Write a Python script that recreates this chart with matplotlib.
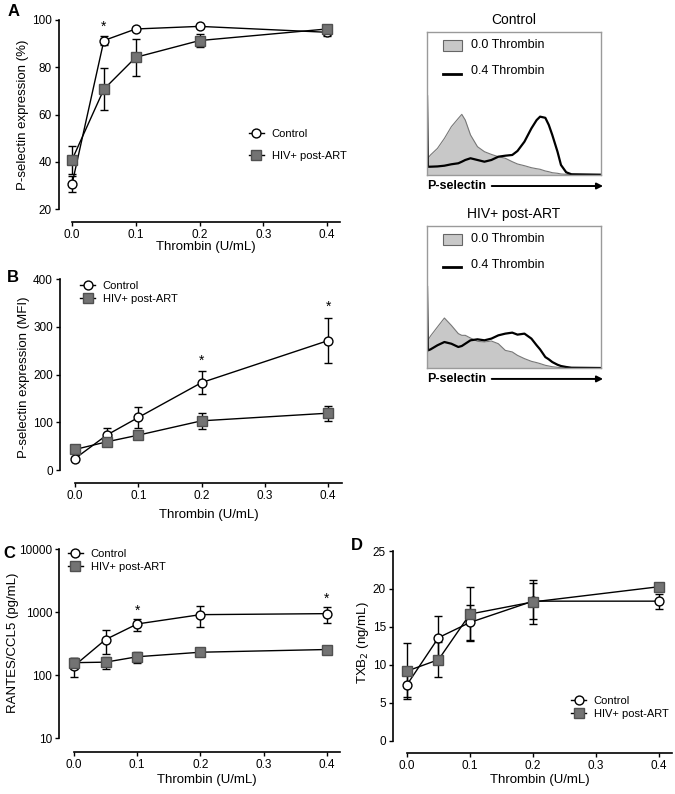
import matplotlib
matplotlib.use('Agg')
import matplotlib.pyplot as plt
import numpy as np

plt.rcParams['font.family'] = ['Liberation Sans', 'DejaVu Sans']

# --- data ---
thrombin = [0.0, 0.05, 0.1, 0.2, 0.4]

# A: P-selectin expression (%)
ctrl_pct = [30.5, 91.3, 96.2, 97.3, 94.8]
ctrl_pct_err = [3.5, 2.0, 0.8, 0.6, 1.5]
hiv_pct = [40.8, 70.7, 84.2, 91.3, 96.2]
hiv_pct_err = [6.0, 8.8, 7.8, 2.7, 1.0]

# B: P-selectin MFI
ctrl_mfi = [24, 73, 110, 183, 271]
ctrl_mfi_err = [4, 16, 21, 24, 47]
hiv_mfi = [43, 59, 73, 103, 119]
hiv_mfi_err = [4, 6, 4, 17, 16]

# C: RANTES/CCL5 (pg/mL)
ctrl_rantes = [139, 366, 646, 908, 942]
ctrl_rantes_err = [47, 150, 139, 340, 265]
hiv_rantes = [157, 160, 195, 230, 254]
hiv_rantes_err = [32, 35, 40, 15, 10]

# D: TXB2 (ng/mL)
ctrl_txb = [7.4, 13.6, 15.6, 18.4, 18.4]
ctrl_txb_err = [1.6, 2.9, 2.3, 2.4, 1.0]
hiv_txb = [9.2, 10.7, 16.7, 18.3, 20.3]
hiv_txb_err = [3.7, 2.3, 3.6, 2.9, 0.3]

# significance stars (x, y)
stars_a = [(0.05, 95.3)]
stars_b = [(0.2, 220), (0.4, 333)]
stars_c = [(0.1, 896), (0.4, 1390)]

# flow histograms (channel 0-100, height in % of box)
hist_x = [0, 0.5, 2, 6, 10, 14, 18, 20, 22, 25, 29, 33, 37, 41, 45, 49, 52,
          56, 60, 63, 65, 68, 70, 72, 75, 77, 80, 83, 100]
ctrl_0 = [11.7, 11.7, 14, 18.6, 25.6, 33.8, 39.6, 42.4, 38.4, 28, 19.8, 16.3,
          14.4, 12.8, 11.7, 9.3, 7.7, 6.5, 5.1, 4.4, 4, 2.8, 2.3, 1.6, 1.2,
          0.7, 0.5, 0, 0]
ctrl_04 = [55, 5.8, 5.8, 6, 6.5, 7.5, 8.2, 9.3, 10.5, 11.7, 10.5, 9.3, 10.5,
           12.8, 13.5, 14, 16.8, 23.3, 32.6, 38.4, 40.8, 40, 35, 28, 16.3, 7,
           1.9, 0.5, 0.2]
hiv_0 = [19.5, 19.5, 22.5, 28.9, 35.2, 30, 24.2, 23, 23, 21.1, 18.8, 18.3,
         19, 17.1, 12.4, 11.3, 8.9, 6.6, 4.7, 3.8, 3.1, 1.9, 1.4, 0.9, 0.5,
         0.2, 0, 0, 0]
hiv_04 = [57, 12.4, 13.1, 16, 18.3, 17.1, 14.8, 15.5, 17.1, 19.5, 20.2, 19.5,
          20.7, 23, 24.2, 24.9, 23.5, 24.2, 20.7, 16, 13.1, 7.7, 6.1, 4.2, 2.3,
          1.4, 0.7, 0.2, 0]

W, H = 675, 794
fig = plt.figure(figsize=(W / 100, H / 100), dpi=100)


def add_ax(l, t, r, b):
    return fig.add_axes([l / W, 1 - b / H, (r - l) / W, (b - t) / H])


sq_face = '#737373'
sq_edge = '#505050'


def line_panel(ax, c, ce, h, he, xlim, ylim, ybounds, yticks, ylabel,
               label_x, label_y, xlabel_y, stars, log=False):
    ax.errorbar(thrombin, c, yerr=ce, fmt='none', ecolor='black', elinewidth=1,
                capsize=3, capthick=1, zorder=2)
    ax.errorbar(thrombin, h, yerr=he, fmt='none', ecolor='black', elinewidth=1,
                capsize=3, capthick=1, zorder=2)
    ax.plot(thrombin, c, '-o', color='black', lw=1, ms=6.4, mfc='white',
            mec='black', mew=1, label='Control', zorder=3)
    ax.plot(thrombin, h, '-s', color='black', lw=1, ms=6.8, mfc=sq_face,
            mec=sq_edge, mew=1, label='HIV+ post-ART', zorder=4)
    if log:
        ax.set_yscale('log')
    ax.set_xlim(*xlim)
    ax.set_ylim(*ylim)
    ax.set_yticks(yticks)
    ax.set_yticklabels([str(t) for t in yticks])
    ax.yaxis.set_minor_locator(matplotlib.ticker.NullLocator())
    ax.set_xticks([0, 0.1, 0.2, 0.3, 0.4])
    ax.set_xticklabels(['0.0', '0.1', '0.2', '0.3', '0.4'])
    for s in ['top', 'right']:
        ax.spines[s].set_visible(False)
    ax.spines['left'].set_bounds(*ybounds)
    ax.spines['bottom'].set_bounds(0, xlim[1])
    for s in ['left', 'bottom']:
        ax.spines[s].set_linewidth(1.2)
    ax.tick_params(length=3, width=1, labelsize=8.5, pad=2, color='black')
    ax.set_ylabel(ylabel, fontsize=9.5)
    ax.yaxis.set_label_coords(label_x, label_y)
    ax.set_xlabel('Thrombin (U/mL)', fontsize=9.5)
    ax.xaxis.set_label_coords(0.5 + (0 - xlim[0]) / (xlim[1] - xlim[0]) / 2, xlabel_y)
    for sx, sy in stars:
        ax.text(sx, sy, '*', ha='center', va='baseline', fontsize=10)


def add_legend(ax, anchor, spacing):
    ax.legend(loc='upper left', bbox_to_anchor=anchor, frameon=False,
              fontsize=8, handlelength=1.35, handletextpad=0.7,
              labelspacing=spacing, borderpad=0, borderaxespad=0)


# A
axA = add_ax(59, 20, 340, 222)
line_panel(axA, ctrl_pct, ctrl_pct_err, hiv_pct, hiv_pct_err,
           (-0.0204, 0.4204), (14.5, 100), (20, 100), [20, 40, 60, 80, 100],
           'P-selectin expression (%)', -0.105, 0.532, -0.094, stars_a)
add_legend(axA, (0.676, 0.462), 1.08)

# B
axB = add_ax(60, 279, 342, 483)
line_panel(axB, ctrl_mfi, ctrl_mfi_err, hiv_mfi, hiv_mfi_err,
           (-0.0237, 0.422), (-27.2, 400), (0, 400), [0, 100, 200, 300, 400],
           'P-selectin expression (MFI)', -0.108, 0.52, -0.127, stars_b)
add_legend(axB, (0.071, 0.99), 0.3)

# C
axC = add_ax(59, 549, 340, 752)
line_panel(axC, ctrl_rantes, ctrl_rantes_err, hiv_rantes, hiv_rantes_err,
           (-0.0237, 0.4206), (6.0, 10000), (10, 10000), [10, 100, 1000, 10000],
           'RANTES/CCL5 (pg/mL)', -0.141, 0.537, -0.108, stars_c, log=True)
add_legend(axC, (0.032, 1.0), 0.3)

# D
axD = add_ax(393, 551, 672, 753)
line_panel(axD, ctrl_txb, ctrl_txb_err, hiv_txb, hiv_txb_err,
           (-0.0222, 0.4206), (-1.58, 25), (0, 25), [0, 5, 10, 15, 20, 25],
           'TXB$_2$ (ng/mL)', -0.078, 0.545, -0.104, [])
add_legend(axD, (0.638, 0.283), 0.3)

# panel letters
for letter, (px, py) in zip('ABCD', [(14, 11), (13, 277), (9, 553), (357, 545)]):
    fig.text(px / W, 1 - py / H, letter, fontsize=12, fontweight='bold',
             ha='center', va='center')


# flow histograms
def hist_panel(ax, title, g, k):
    ax.fill_between(hist_x, 0, g, color='#c8c8c8', lw=0)
    ax.plot(hist_x, g, color='#777777', lw=0.8)
    ax.plot(hist_x, k, color='black', lw=1.6)
    ax.set_xlim(0, 100)
    ax.set_ylim(0, 100)
    ax.set_xticks([])
    ax.set_yticks([])
    for s in ax.spines.values():
        s.set_color('#9a9a9a')
        s.set_linewidth(1)
    ax.text(0.5, 1.085, title, transform=ax.transAxes, ha='center',
            va='center', fontsize=10)
    ax.add_patch(plt.Rectangle((0.092, 0.867), 0.109, 0.077,
                               transform=ax.transAxes, facecolor='#c8c8c8',
                               edgecolor='#666666', lw=0.8))
    ax.text(0.253, 0.906, '0.0 Thrombin', transform=ax.transAxes,
            va='center', fontsize=9)
    ax.plot([0.092, 0.195], [0.708, 0.708], transform=ax.transAxes,
            color='black', lw=2)
    ax.text(0.253, 0.727, '0.4 Thrombin', transform=ax.transAxes,
            va='center', fontsize=9)
    ax.text(0.0, -0.077, 'P-selectin', transform=ax.transAxes, ha='left',
            va='center', fontsize=9, fontweight='bold')
    ax.annotate('', xy=(1.012, -0.077), xytext=(0.372, -0.077),
                xycoords='axes fraction', textcoords='axes fraction',
                arrowprops=dict(arrowstyle='-|>', color='black', lw=1.4,
                                mutation_scale=9, shrinkA=0, shrinkB=0))


hist_panel(add_ax(427, 32, 601, 175), 'Control', ctrl_0, ctrl_04)
hist_panel(add_ax(427, 226, 601, 368), 'HIV+ post-ART', hiv_0, hiv_04)

fig.savefig('out.png', dpi=100)
